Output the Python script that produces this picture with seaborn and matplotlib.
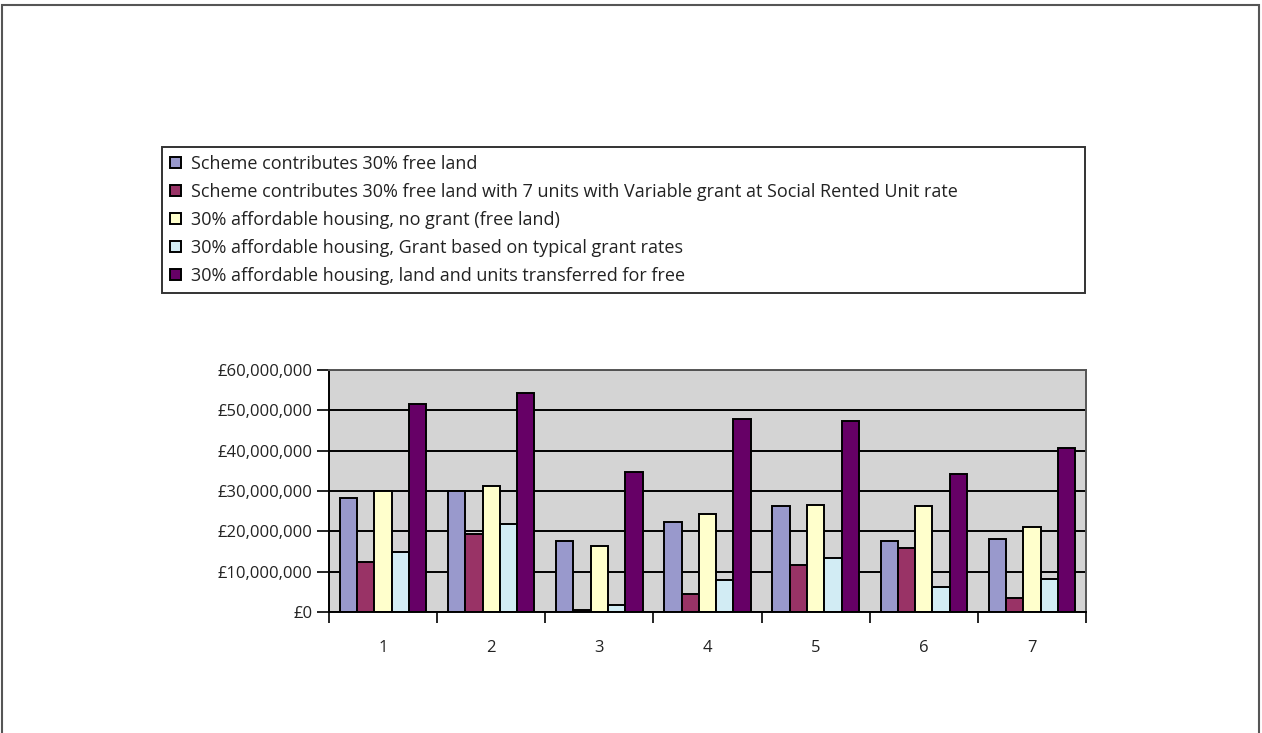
import numpy as np
import pandas as pd
import matplotlib
matplotlib.use("Agg")
import matplotlib.pyplot as plt
from matplotlib.ticker import FuncFormatter, MultipleLocator, FixedLocator
from matplotlib.patches import Rectangle
import seaborn as sns

schemes = ["1", "2", "3", "4", "5", "6", "7"]
series = [
    "Scheme contributes 30% free land",
    "Scheme contributes 30% free land with 7 units with Variable grant at Social Rented Unit rate",
    "30% affordable housing, no grant (free land)",
    "30% affordable housing, Grant based on typical grant rates",
    "30% affordable housing, land and units transferred for free",
]
free_land = [28.2, 30.1, 17.6, 22.4, 26.2, 17.6, 18.2]
free_land_grant = [12.4, 19.3, 0.4, 4.5, 11.6, 15.8, 3.5]
no_grant = [30.1, 31.3, 16.4, 24.3, 26.6, 26.2, 21.1]
typical_grant = [14.8, 21.8, 1.7, 7.9, 13.5, 6.2, 8.2]
transferred = [51.6, 54.4, 34.7, 47.9, 47.3, 34.1, 40.6]
colors = ["#9999CC", "#993366", "#FFFFCC", "#D2ECF4", "#660066"]

values = [free_land, free_land_grant, no_grant, typical_grant, transferred]
df = pd.DataFrame({
    "scheme": schemes * len(series),
    "series": [s for s in series for _ in schemes],
    "value": [v * 1e6 for vals in values for v in vals],
})

sns.set_style("white")
plt.rcParams["font.family"] = ["Open Sans", "DejaVu Sans"]

fig = plt.figure(figsize=(12.62, 7.33), dpi=100)
ax = fig.add_axes([329 / 1262, 1 - 612 / 733, (1086 - 329) / 1262, (612 - 370) / 733])

sns.barplot(data=df, x="scheme", y="value", hue="series", palette=colors,
            saturation=1, edgecolor="black", linewidth=1.4, ax=ax, legend=True)

ax.set_facecolor("#D4D4D4")
ax.set_xlim(-0.5, 6.5)
ax.set_ylim(0, 60e6)
ax.yaxis.set_major_locator(MultipleLocator(10e6))
ax.yaxis.set_major_formatter(FuncFormatter(lambda v, p: f"£{v:,.0f}"))
ax.grid(axis="y", color="black", linewidth=1.4)
ax.set_axisbelow(True)
ax.set_xlabel("")
ax.set_ylabel("")

ax.tick_params(axis="y", length=9, width=1.2, color="black", direction="out",
               left=True, labelsize=12, labelcolor="#222222", pad=3)
ax.tick_params(axis="x", which="major", length=0, labelsize=12,
               labelcolor="#222222", pad=20)
ax.xaxis.set_minor_locator(FixedLocator(np.arange(-0.5, 7, 1)))
ax.tick_params(axis="x", which="minor", length=8, width=1.2, color="black",
               direction="out", bottom=True)

for side in ["left", "bottom"]:
    ax.spines[side].set_color("black")
    ax.spines[side].set_linewidth(1.4)
for side in ["top", "right"]:
    ax.spines[side].set_color("#555555")
    ax.spines[side].set_linewidth(1.4)

handles, labels = ax.get_legend_handles_labels()
ax.get_legend().remove()
leg = fig.legend(handles, labels, loc="upper left",
                 bbox_to_anchor=(162 / 1262, 1 - 147 / 733, (1085 - 162) / 1262, 0),
                 mode="expand", fontsize=13, frameon=True, fancybox=False,
                 edgecolor="black", handlelength=0.6, handleheight=0.6,
                 handletextpad=0.55, labelspacing=0.55, borderpad=0.45,
                 borderaxespad=0)
leg.get_frame().set_linewidth(1.4)
for t in leg.get_texts():
    t.set_color("#222222")

# outer chart frame
fig.patches.append(Rectangle((2 / 1262, -0.05), (1259 - 2) / 1262, 1.05 - 5 / 733,
                             transform=fig.transFigure, fill=False,
                             edgecolor="#555555", linewidth=1.5))

fig.savefig("out.png", dpi=100)
